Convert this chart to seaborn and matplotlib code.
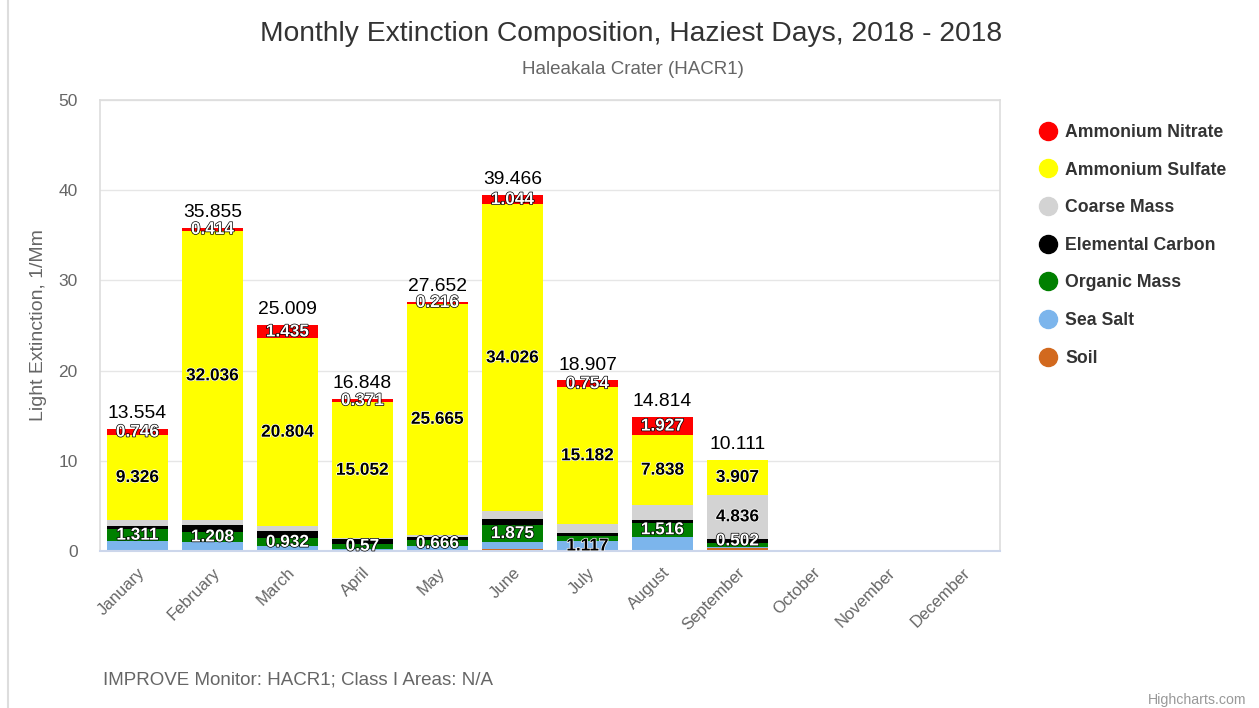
import numpy as np
import pandas as pd
import matplotlib.pyplot as plt
import matplotlib.patheffects as pe
from matplotlib.lines import Line2D
import seaborn as sns

months = ["January", "February", "March", "April", "May", "June",
          "July", "August", "September", "October", "November", "December"]

# stacked from the bottom up
series_names = ["Soil", "Sea Salt", "Organic Mass", "Elemental Carbon",
                "Coarse Mass", "Ammonium Sulfate", "Ammonium Nitrate"]
soil = [0.0, 0.0, 0.0, 0.0, 0.0, 0.201, 0.0, 0.0, 0.366, 0, 0, 0]
sea_salt = [1.1, 0.95, 0.5, 0.255, 0.505, 0.79, 1.117, 1.6, 0.1, 0, 0, 0]
organic_mass = [1.311, 1.208, 0.932, 0.57, 0.666, 1.875, 0.504, 1.516, 0.4, 0, 0, 0]
elemental_carbon = [0.4, 0.7, 0.78, 0.5, 0.4, 0.63, 0.35, 0.3, 0.502, 0, 0, 0]
coarse_mass = [0.671, 0.547, 0.558, 0.1, 0.2, 0.9, 1.0, 1.633, 4.836, 0, 0, 0]
ammonium_sulfate = [9.326, 32.036, 20.804, 15.052, 25.665, 34.026, 15.182, 7.838, 3.907, 0, 0, 0]
ammonium_nitrate = [0.746, 0.414, 1.435, 0.371, 0.216, 1.044, 0.754, 1.927, 0.0, 0, 0, 0]

colors = {
    "Ammonium Nitrate": "#ff0000",
    "Ammonium Sulfate": "#ffff00",
    "Coarse Mass": "#d3d3d3",
    "Elemental Carbon": "#000000",
    "Organic Mass": "#008000",
    "Sea Salt": "#7cb5ec",
    "Soil": "#d2691e",
}

# which lower segment keeps its label in each month (the rest are hidden like overlaps)
always_labeled = ["Ammonium Nitrate", "Ammonium Sulfate"]
extra_labels = [["Organic Mass"], ["Organic Mass"], ["Organic Mass"], ["Organic Mass"],
                ["Organic Mass"], ["Organic Mass"], ["Sea Salt"], ["Organic Mass"],
                ["Coarse Mass", "Elemental Carbon"], [], [], []]

values = np.array([soil, sea_salt, organic_mass, elemental_carbon,
                   coarse_mass, ammonium_sulfate, ammonium_nitrate])
cum = values.cumsum(axis=0)
totals = cum[-1]

df = pd.DataFrame({"month": months})
for i, name in enumerate(series_names):
    df[name] = cum[i]

sns.set_style("white")
plt.rcParams["font.family"] = ["Liberation Sans", "DejaVu Sans"]

fig = plt.figure(figsize=(12.59, 7.08), dpi=100)
ax = fig.add_axes([100 / 1259, 1 - 551 / 708, 900 / 1259, 451 / 708])

# draw cumulative heights from the top series down so each layer covers the next
for i in reversed(range(len(series_names))):
    name = series_names[i]
    sns.barplot(data=df, x="month", y=name, order=months, color=colors[name],
                saturation=1, width=0.82, linewidth=0, errorbar=None, ax=ax, zorder=2)


def text_color(hex_color):
    r, g, b = [int(hex_color[k:k + 2], 16) for k in (1, 3, 5)]
    return "#000000" if (r * 299 + g * 587 + b * 114) / 1000 > 128 else "#ffffff"


for j in range(len(months)):
    for i, name in enumerate(series_names):
        v = values[i, j]
        if v <= 0:
            continue
        if name not in always_labeled and name not in extra_labels[j]:
            continue
        tc = text_color(colors[name])
        oc = "#ffffff" if tc == "#000000" else "#000000"
        ax.text(j, cum[i, j] - v / 2, f"{v:g}", ha="center", va="center",
                fontsize=12.4, fontweight="bold", color=tc, zorder=5,
                path_effects=[pe.withStroke(linewidth=1.0, foreground=oc)])
    if totals[j] > 0:
        ax.annotate(f"{round(totals[j], 3):g}", (j, totals[j]), xytext=(0, 5),
                    textcoords="offset points", ha="center", va="bottom",
                    fontsize=13.9, color="#000000", zorder=5)

ax.set_ylim(0, 50)
ax.set_xlim(-0.5, 11.5)
ax.set_yticks(range(0, 51, 10))
ax.yaxis.grid(True, color="#e6e6e6", linewidth=1, zorder=0)
ax.set_axisbelow(True)
for side in ["top", "left", "right"]:
    ax.spines[side].set_color("#dddddd")
    ax.spines[side].set_linewidth(1.2)
ax.spines["bottom"].set_color("#ccd6eb")
ax.spines["bottom"].set_linewidth(1.5)

ax.set_xlabel("")
ax.set_ylabel("Light Extinction, 1/Mm", fontsize=14, color="#666666", labelpad=8)
ax.tick_params(axis="y", length=0, pad=16, labelsize=12.5, labelcolor="#666666")
ax.tick_params(axis="x", length=0, pad=10, labelsize=12, labelcolor="#666666")
plt.setp(ax.get_xticklabels(), rotation=45, ha="right", rotation_mode="anchor")

fig.text(631 / 1259, 1 - 34 / 708, "Monthly Extinction Composition, Haziest Days, 2018 - 2018",
         ha="center", va="center", fontsize=20.3, color="#333333")
fig.text(633 / 1259, 1 - 70 / 708, "Haleakala Crater (HACR1)",
         ha="center", va="center", fontsize=13.5, color="#666666")

legend_order = list(reversed(series_names))
handles = [Line2D([], [], marker="o", linestyle="", markersize=13,
                  markerfacecolor=colors[n], markeredgecolor=colors[n]) for n in legend_order]
fig.legend(handles, legend_order, loc="upper left",
           bbox_to_anchor=(1022 / 1259, 1 - 108 / 708), frameon=False,
           prop={"weight": "bold", "size": 12.7}, labelcolor="#333333",
           labelspacing=1.17, handletextpad=0.35, handlelength=1.2)

fig.text(103 / 1259, 1 - 680 / 708, "IMPROVE Monitor: HACR1; Class I Areas: N/A",
         ha="left", va="center", fontsize=13.5, color="#666666")
fig.text(1246 / 1259, 1 - 700 / 708, "Highcharts.com",
         ha="right", va="center", fontsize=10.2, color="#999999")
fig.add_artist(Line2D([8 / 1259, 8 / 1259], [0, 1], color="#dddddd", linewidth=1.5))

fig.savefig("out.png", dpi=100)
